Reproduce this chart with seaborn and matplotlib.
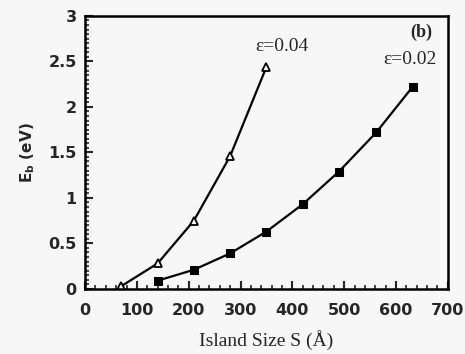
import matplotlib
matplotlib.use("Agg")
import matplotlib.pyplot as plt
import seaborn as sns
import pandas as pd
from matplotlib.ticker import MultipleLocator

sizes_004 = [70, 140, 210, 280, 350]
energy_004 = [0.03, 0.28, 0.75, 1.46, 2.44]
sizes_002 = [140, 210, 280, 350, 420, 490, 562, 632]
energy_002 = [0.09, 0.21, 0.39, 0.63, 0.93, 1.29, 1.72, 2.22]
x_ticks = [0, 100, 200, 300, 400, 500, 600, 700]
y_ticks = [0, 0.5, 1, 1.5, 2, 2.5, 3]
y_ticklabels = ["0", "0.5", "1", "1.5", "2", "2.5", "3"]

sns.set_style("ticks")
bg = "#f7f7f7"
fig = plt.figure(figsize=(4.65, 3.54), dpi=100, facecolor=bg)
ax = fig.add_axes([0.183, 0.184, 0.78, 0.771])
ax.set_facecolor(bg)

df1 = pd.DataFrame({"S": sizes_004, "E": energy_004})
df2 = pd.DataFrame({"S": sizes_002, "E": energy_002})
sns.lineplot(data=df1, x="S", y="E", ax=ax, color="black", lw=1.6,
             marker="^", markersize=6, markerfacecolor="white",
             markeredgecolor="black", markeredgewidth=1.3)
sns.lineplot(data=df2, x="S", y="E", ax=ax, color="black", lw=1.6,
             marker="s", markersize=6, markerfacecolor="black",
             markeredgecolor="black")

ax.set_xlim(0, 700)
ax.set_ylim(0, 3)
ax.set_xticks(x_ticks)
ax.set_yticks(y_ticks)
ax.set_yticklabels(y_ticklabels)
ax.xaxis.set_minor_locator(MultipleLocator(20))
ax.yaxis.set_minor_locator(MultipleLocator(0.05))
ax.tick_params(which="major", direction="in", length=6, width=1.5,
               top=False, right=False, pad=6)
ax.tick_params(axis="x", which="major", pad=10)
ax.tick_params(which="minor", direction="in", length=3, width=1.2,
               top=False, right=False)
for lab in ax.get_xticklabels() + ax.get_yticklabels():
    lab.set_fontfamily("DejaVu Sans")
    lab.set_fontweight("bold")
    lab.set_fontsize(11.5)
for s in ax.spines.values():
    s.set_linewidth(1.8)
    s.set_color("black")

ax.set_xlabel("Island Size S (Å)", fontfamily="Liberation Serif",
              fontsize=14, labelpad=9)
ax.set_ylabel("E$_\\mathregular{b}$ (eV)", fontfamily="DejaVu Sans",
              fontweight="bold", fontsize=11, labelpad=8)

ax.text(380, 2.66, "ε=0.04", fontfamily="Liberation Serif", fontsize=14,
        ha="center", va="center")
ax.text(649, 2.82, "(b)", fontfamily="Liberation Serif", fontsize=13,
        fontweight="bold", ha="center", va="center")
ax.text(626, 2.52, "ε=0.02", fontfamily="Liberation Serif", fontsize=14,
        ha="center", va="center")

fig.savefig("out.png", dpi=100, facecolor=bg)
